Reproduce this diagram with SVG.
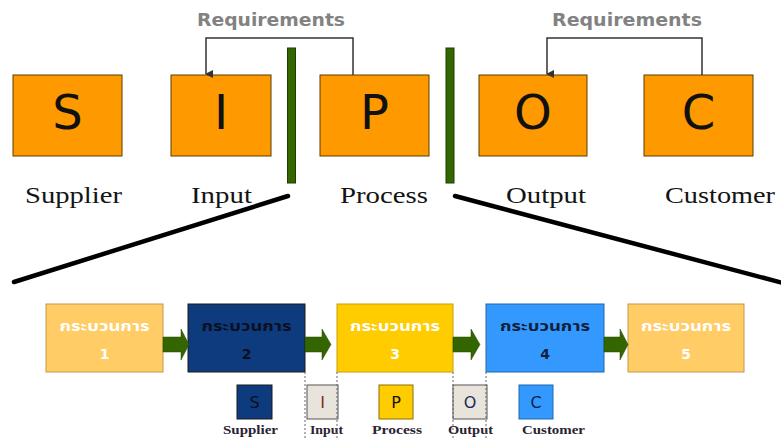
<svg xmlns="http://www.w3.org/2000/svg" width="781" height="438" viewBox="0 0 781 438">
<defs>
<marker id="ah" markerWidth="8" markerHeight="8" refX="4" refY="7" orient="auto-start-reverse" markerUnits="userSpaceOnUse" viewBox="0 0 8 8">
<path d="M0,0 L8,0 L4,8 Z" fill="#333"/>
</marker>
</defs>
<style>
.big{fill:#FF9900;stroke:#5a3d00;stroke-width:1}
.letter{font-family:"DejaVu Sans",Verdana,sans-serif;font-size:48px;fill:#111;text-anchor:middle}
.req{font-family:"DejaVu Sans","Liberation Sans",sans-serif;font-weight:bold;font-size:18px;fill:#828282}
.lbl{font-family:"Liberation Serif","Times New Roman",serif;font-size:24px;fill:#141414}
.bar{fill:#336600;stroke:#1f3d00;stroke-width:1}
.conn{fill:none;stroke:#333;stroke-width:1.5}
.diag{stroke:#000;stroke-width:4.5;stroke-linecap:round}
.garrow{fill:#336600;stroke:#244a00;stroke-width:0.5}
.dot{stroke:#666;stroke-width:1;stroke-dasharray:2,2}
.thai{font-family:"Noto Sans Thai","Tahoma","DejaVu Sans",sans-serif;font-weight:bold;font-size:14px;text-anchor:middle}
.num{font-family:"DejaVu Sans","Liberation Sans",sans-serif;font-weight:bold;font-size:14px;text-anchor:middle}
.sm{font-family:"DejaVu Sans",Verdana,sans-serif;font-size:16px;text-anchor:middle}
.smlbl{font-family:"Liberation Serif","Times New Roman",serif;font-weight:bold;font-size:12px;fill:#2a2233}
</style>
<rect width="781" height="438" fill="#fff"/>

<text class="req" x="197" y="26" textLength="148" lengthAdjust="spacingAndGlyphs">Requirements</text>
<text class="req" x="552" y="26" textLength="150" lengthAdjust="spacingAndGlyphs">Requirements</text>

<g id="node-S"><rect class="big" x="13" y="75" width="109" height="81"/><text class="letter" x="67.5" y="129">S</text><text class="lbl" x="25" y="203" textLength="97" lengthAdjust="spacingAndGlyphs">Supplier</text></g>
<g id="node-I"><rect class="big" x="171" y="75" width="100" height="81"/><text class="letter" x="221" y="129">I</text><text class="lbl" x="191" y="203" textLength="61" lengthAdjust="spacingAndGlyphs">Input</text></g>
<g id="node-P"><rect class="big" x="320" y="75" width="109" height="81"/><text class="letter" x="374.5" y="129">P</text><text class="lbl" x="340" y="203" textLength="88" lengthAdjust="spacingAndGlyphs">Process</text></g>
<g id="node-O"><rect class="big" x="479" y="75" width="108" height="81"/><text class="letter" x="533" y="129">O</text><text class="lbl" x="506" y="203" textLength="80" lengthAdjust="spacingAndGlyphs">Output</text></g>
<g id="node-C"><rect class="big" x="644" y="75" width="109" height="81"/><text class="letter" x="698.5" y="129">C</text><text class="lbl" x="665" y="203" textLength="110" lengthAdjust="spacingAndGlyphs">Customer</text></g>

<g id="dividers">
<rect class="bar" x="287.5" y="48" width="8" height="135"/>
<rect class="bar" x="446" y="48" width="8" height="135"/>
</g>

<g id="process-1"><rect x="46" y="304" width="117" height="68" fill="#FFCC66" stroke="#C4974A" stroke-width="1"/><text class="thai" x="104.5" y="331" fill="#fff" textLength="90" lengthAdjust="spacingAndGlyphs">กระบวนการ</text><text class="num" x="104.5" y="359" fill="#fff">1</text></g>
<g id="process-2"><rect x="188" y="304" width="117" height="68" fill="#0E3B7E" stroke="#1a1a1a" stroke-width="1"/><text class="thai" x="246.5" y="331" fill="#0b0f1e" textLength="90" lengthAdjust="spacingAndGlyphs">กระบวนการ</text><text class="num" x="246.5" y="359" fill="#0b0f1e">2</text></g>
<g id="process-3"><rect x="337" y="304" width="116" height="68" fill="#FFCC00" stroke="#C9A000" stroke-width="1"/><text class="thai" x="395" y="331" fill="#fff" textLength="90" lengthAdjust="spacingAndGlyphs">กระบวนการ</text><text class="num" x="395" y="359" fill="#fff">3</text></g>
<g id="process-4"><rect x="486" y="304" width="118" height="68" fill="#3399FF" stroke="#2266AA" stroke-width="1"/><text class="thai" x="545" y="331" fill="#12213a" textLength="90" lengthAdjust="spacingAndGlyphs">กระบวนการ</text><text class="num" x="545" y="359" fill="#12213a">4</text></g>
<g id="process-5"><rect x="628" y="304" width="116" height="68" fill="#FFCC66" stroke="#C4974A" stroke-width="1"/><text class="thai" x="686" y="331" fill="#fff" textLength="90" lengthAdjust="spacingAndGlyphs">กระบวนการ</text><text class="num" x="686" y="359" fill="#fff">5</text></g>

<g id="legend-S"><rect x="237" y="385" width="35" height="34" fill="#0E3B7E" stroke="#1a1a1a"/><text class="sm" x="254.5" y="407.5" fill="#0b0f1e">S</text><text class="smlbl" x="223" y="434" textLength="55" lengthAdjust="spacingAndGlyphs">Supplier</text></g>
<g id="legend-I"><rect x="307" y="385" width="31" height="34" fill="#E8E4DC" stroke="#555"/><text class="sm" x="322.5" y="407.5" fill="#7a2a2a">I</text><text class="smlbl" x="310" y="434" textLength="33" lengthAdjust="spacingAndGlyphs">Input</text></g>
<g id="legend-P"><rect x="379" y="385" width="34" height="34" fill="#FFCC00" stroke="#8a7000"/><text class="sm" x="396" y="407.5" fill="#111">P</text><text class="smlbl" x="372" y="434" textLength="50" lengthAdjust="spacingAndGlyphs">Process</text></g>
<g id="legend-O"><rect x="453" y="385" width="34" height="34" fill="#E8E4DC" stroke="#555"/><text class="sm" x="470" y="407.5" fill="#1a2a55">O</text><text class="smlbl" x="448" y="434" textLength="45" lengthAdjust="spacingAndGlyphs">Output</text></g>
<g id="legend-C"><rect x="519" y="385" width="34" height="34" fill="#3399FF" stroke="#2266AA"/><text class="sm" x="536" y="407.5" fill="#0e1f44">C</text><text class="smlbl" x="522" y="434" textLength="63" lengthAdjust="spacingAndGlyphs">Customer</text></g>

<g id="connectors">
<polyline class="conn" points="353,75 353,38 206,38 206,74" marker-end="url(#ah)"/>
<polyline class="conn" points="702,75 702,38 547,38 547,74" marker-end="url(#ah)"/>
<line class="diag" x1="288" y1="196" x2="14" y2="282"/>
<line class="diag" x1="455" y1="196" x2="783" y2="283"/>
<polygon class="garrow" points="163,337 181,337 181,329 189,344.5 181,360 181,352 163,352"/>
<polygon class="garrow" points="305,337 322,337 322,329 331,344.5 322,360 322,352 305,352"/>
<polygon class="garrow" points="453,337 471,337 471,329 480,344.5 471,360 471,352 453,352"/>
<polygon class="garrow" points="604,337 620,337 620,329 628,344.5 620,360 620,352 604,352"/>
<line class="dot" x1="305" y1="372" x2="305" y2="438"/>
<line class="dot" x1="337" y1="372" x2="337" y2="438"/>
<line class="dot" x1="453" y1="372" x2="453" y2="438"/>
<line class="dot" x1="486" y1="372" x2="486" y2="438"/>
</g>
</svg>
